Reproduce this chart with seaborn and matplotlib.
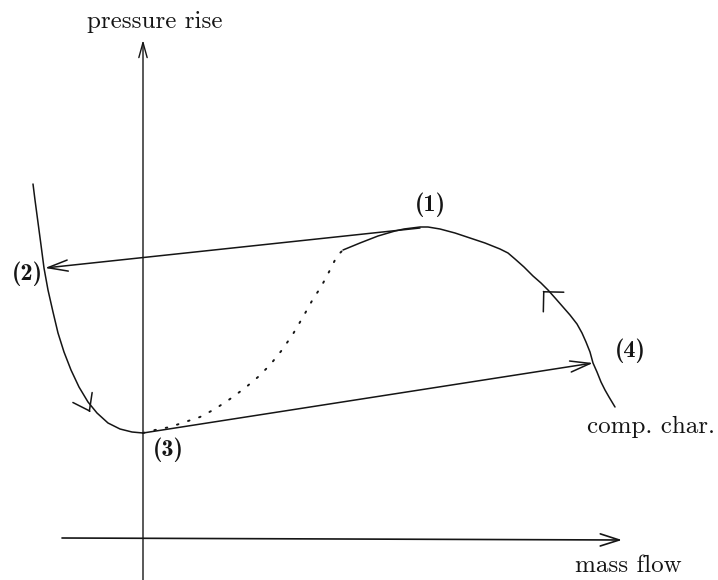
"""Compressor surge cycle sketch: pressure rise vs mass flow."""
import matplotlib

matplotlib.use("Agg")
import matplotlib.pyplot as plt
import seaborn as sns

sns.set_theme(style="white")

INK = "#151515"

# compressor characteristic (pixel units, y grows downward)
back_x = [33, 35, 37, 39, 41, 44, 48, 53, 58, 64, 71, 79, 88, 97, 108, 120, 132, 143]
back_y = [184, 200, 215, 230, 245, 268, 290, 312, 333, 352, 370, 387, 402, 413,
          423, 429, 432, 433]

unstable_x = [143, 155, 170, 185, 200, 215, 230, 245, 258, 270, 282, 293, 303,
              313, 321, 330, 337, 343]
unstable_y = [433, 430, 427, 422, 417, 409, 399, 388, 377, 365, 350, 334, 317,
              299, 287, 270, 256, 250]

stable_x = [343, 360, 378, 395, 404, 412, 420, 428, 440, 455, 470, 485, 500, 508,
            515, 524, 533, 541, 548, 556, 563, 570, 577, 582, 586, 590, 593, 597,
            601, 605, 609, 612, 615]
stable_y = [250, 243, 236, 231, 229, 228, 227, 227, 229, 233, 238, 243, 249, 253,
            259, 267, 276, 283, 290, 299, 307, 315, 324, 333, 342, 352, 363, 372,
            382, 390, 397, 402, 407]

# surge jumps: (1) -> (2) and (3) -> (4)
jump_from_x = [420, 143]
jump_from_y = [228, 433]
jump_to_x = [45, 593]
jump_to_y = [268, 363]

# direction marks on the characteristic (tip, travel direction)
mark_x = [90, 543]
mark_y = [412, 291]
mark_dx = [0.46, -0.69]
mark_dy = [0.89, -0.72]
mark_head = ["->,head_length=0.54,head_width=0.39",
             "->,head_length=0.51,head_width=0.51"]

point_labels = ["(1)", "(2)", "(3)", "(4)"]
label_x = [430, 27, 168, 630]
label_y = [211, 280, 456, 357]

fig = plt.figure(figsize=(7.18, 5.8), dpi=100)
ax = fig.add_axes([0, 0, 1, 1])

for xs, ys in [(back_x, back_y), (stable_x, stable_y)]:
    sns.lineplot(x=xs, y=ys, sort=False, estimator=None, color=INK, lw=1.1, ax=ax)
ax.plot(unstable_x, unstable_y, color=INK, lw=1.4, linestyle=(0, (0.8, 5.2)),
        dash_capstyle="round")

# axes of the sketch
ax.annotate("", xy=(143, 40), xytext=(143, 580),
            arrowprops=dict(arrowstyle="->,head_length=0.72,head_width=0.2",
                            mutation_scale=15, lw=1.0, color=INK,
                            shrinkA=0, shrinkB=0))
ax.annotate("", xy=(622, 540), xytext=(62, 538),
            arrowprops=dict(arrowstyle="->,head_length=0.72,head_width=0.23",
                            mutation_scale=19, lw=1.2, color=INK,
                            shrinkA=0, shrinkB=0))

for x0, y0, x1, y1 in zip(jump_from_x, jump_from_y, jump_to_x, jump_to_y):
    ax.annotate("", xy=(x1, y1), xytext=(x0, y0),
                arrowprops=dict(arrowstyle="->,head_length=0.72,head_width=0.2",
                                mutation_scale=20, lw=1.1, color=INK,
                                shrinkA=0, shrinkB=0))

for x, y, dx, dy, head in zip(mark_x, mark_y, mark_dx, mark_dy, mark_head):
    ax.annotate("", xy=(x, y), xytext=(x - dx, y - dy),
                arrowprops=dict(arrowstyle=head, mutation_scale=20, lw=1.1,
                                color=INK, shrinkA=0, shrinkB=0))

for txt, x, y in zip(point_labels, label_x, label_y):
    ax.text(x, y, txt, ha="center", va="baseline", fontsize=17.5,
            fontfamily="cmb10", color=INK)

ax.text(87, 28, "pressure rise", ha="left", va="baseline", fontsize=18,
        fontfamily="cmr10", color=INK)
ax.text(575, 572, "mass flow", ha="left", va="baseline", fontsize=18,
        fontfamily="cmr10", color=INK)
ax.text(587, 433, "comp. char.", ha="left", va="baseline", fontsize=18,
        fontfamily="cmr10", color=INK)

ax.set_xlim(0, 718)
ax.set_ylim(580, 0)
ax.axis("off")

fig.savefig("out.png", dpi=100, facecolor="white")
